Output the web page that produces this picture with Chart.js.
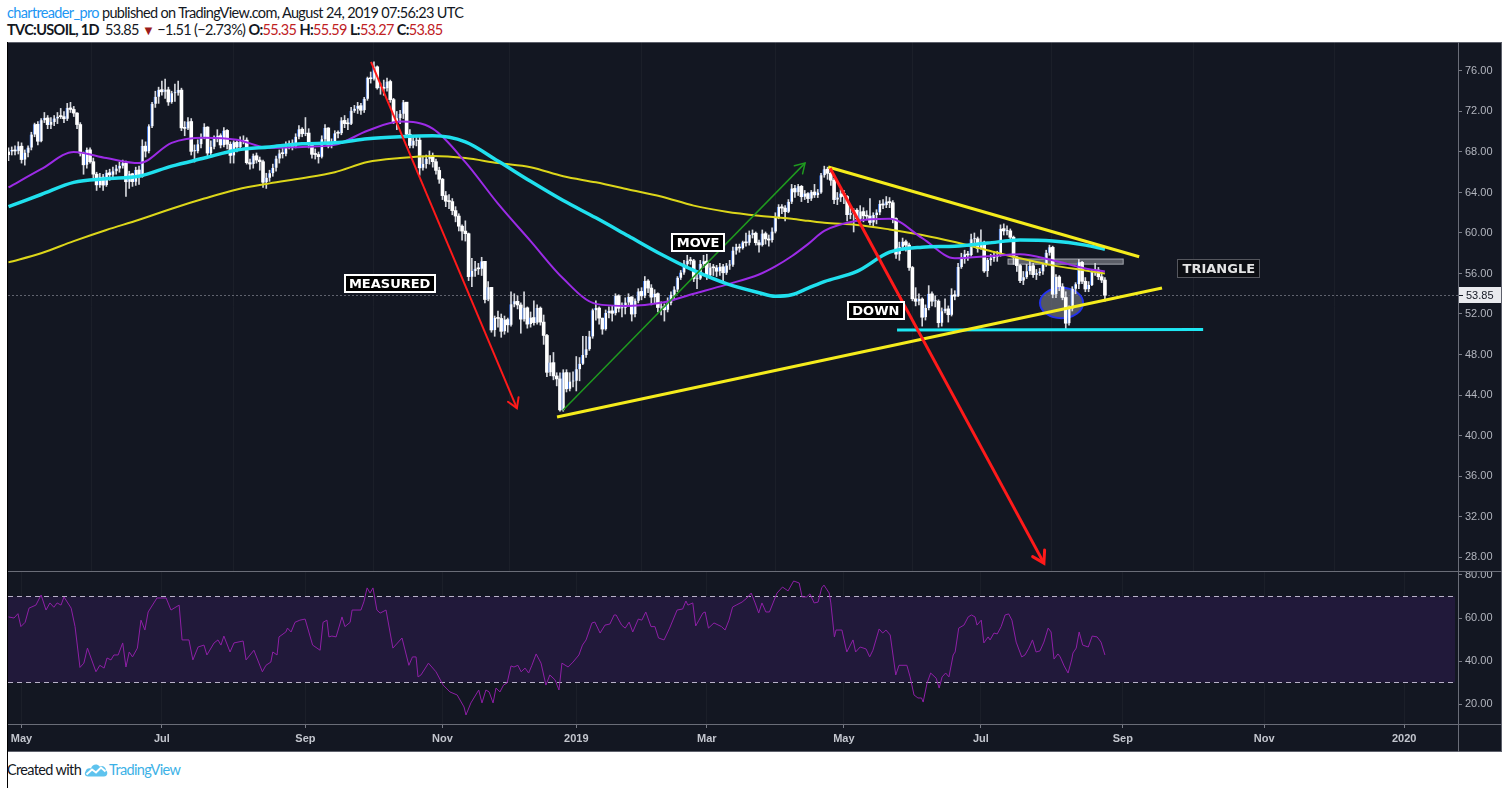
<!DOCTYPE html>
<html>
<head>
<meta charset="utf-8">
<title>TVC:USOIL, 1D</title>
<script src="https://cdn.jsdelivr.net/npm/chart.js@4.4.1/dist/chart.umd.min.js"></script>
<style>
 body { margin: 0; width: 1510px; height: 788px; background: #fff; position: relative; overflow: hidden; font-family: Lato, 'Open Sans', sans-serif; }
 .hd { position: absolute; left: 7px; font-size: 14.5px; letter-spacing: -0.65px; color: #131722; white-space: nowrap; line-height: 17px; }
 #h1 { top: 4px; }
 #h2 { top: 21px; }
 .blue { color: #2196f3; }
 .red { color: #c0211f; }
 .dn { color: #9b1b1b; font-size: 13px; }
 #frame { position: absolute; left: 7px; top: 42px; width: 1495px; height: 710px; background: #131722; box-sizing: border-box; border: 1px solid #5d606b; border-left: 1px solid #000; }
 #edge { position: absolute; left: 7px; top: 42px; width: 1px; height: 746px; background: #000; }
 canvas { position: absolute; }
 .sep { position: absolute; background: #6a6d78; z-index: 2; }
 #foot { position: absolute; left: 7px; top: 761px; font-size: 14.5px; letter-spacing: -0.65px; color: #131722; white-space: nowrap; }
 #foot svg { vertical-align: -2px; margin: 0 1px 0 3px; }
 #foot .tv { color: #3cb1e6; }
</style>
</head>
<body>
<div class="hd" id="h1"><span class="blue">chartreader_pro</span> published on TradingView.com, August 24, 2019 07:56:23 UTC</div>
<div class="hd" id="h2"><b>TVC:USOIL, 1D</b>&nbsp; 53.85 <span class="dn">▼</span> −1.51 (−2.73%) <b>O:</b><span class="red">55.35</span> <b>H:</b><span class="red">55.59</span> <b>L:</b><span class="red">53.27</span> <b>C:</b><span class="red">53.85</span></div>
<div id="frame"></div>
<div id="edge"></div>
<canvas id="mainChart" width="1494" height="529" style="left:8px;top:42px"></canvas>
<canvas id="rsiChart" width="1494" height="181" style="left:8px;top:571px"></canvas>
<div class="sep" style="left:1458px;top:42px;width:1px;height:710px"></div>
<div class="sep" style="left:8px;top:571px;width:1494px;height:1px"></div>
<div class="sep" style="left:8px;top:724px;width:1494px;height:1px"></div>
<div id="foot">Created with<svg width="24" height="15" viewBox="0 0 24 15"><path d="M4 14.5C1 14.5 0 11.5 1.5 9.5C2 6.5 5 5.5 7 6.5C8 2.5 13 1 15.5 4.5C18 3 22 4.5 22 8.5C24 9.5 24 14.5 20 14.5Z" fill="#5ec3ee"/><path d="M2.5 12.5L8 7.5L12 10.5L17 5.5L21.5 9.5" stroke="#fff" stroke-width="2" fill="none"/></svg><span class="tv">TradingView</span></div>

<script>
// daily candles, Apr 25 2018 .. Aug 23 2019 (one entry per trading day)
const firstOpen = 67.70;
const closes = [
 68.05,68.19,68.10,68.57,
 67.25,67.93,68.43,69.72,70.73,69.06,71.14,71.36,70.70,70.96,71.31,71.49,71.49,71.28,72.35,72.20,71.84,70.71,67.88,66.73,68.21,67.04,
 65.81,64.75,65.52,64.73,65.95,65.74,66.10,66.36,66.64,66.89,65.06,65.85,65.07,66.22,65.54,68.58,68.08,70.53,72.76,73.45,74.15,
 73.94,74.14,72.94,73.80,73.85,74.11,70.38,70.33,71.01,68.06,68.08,68.76,69.46,70.46,67.89,68.52,69.30,69.61,68.69,70.13,68.76,
 67.66,68.96,68.49,69.01,69.17,66.94,66.81,67.63,67.20,67.04,65.01,65.46,65.91,66.43,67.35,67.86,67.83,68.72,68.87,68.53,69.51,70.25,69.80,
 69.87,68.72,67.77,67.75,67.54,69.25,70.37,68.59,68.99,69.85,69.85,71.12,70.80,70.78,72.08,72.28,72.57,72.12,73.25,
 75.30,75.23,76.41,74.33,74.34,74.29,74.96,73.17,70.97,71.34,71.78,72.92,69.75,68.65,69.12,69.17,66.43,66.82,67.33,67.59,67.04,66.18,65.31,
 63.69,63.14,63.10,62.21,61.67,60.67,60.19,59.93,55.69,56.25,56.46,56.46,57.20,53.43,54.63,50.42,51.63,51.56,50.29,51.45,50.93,
 52.95,53.25,52.89,51.49,52.61,51.00,51.65,51.15,52.58,51.20,49.88,46.24,47.20,45.88,45.59,42.53,46.22,44.61,45.33,45.41,
 46.54,47.09,47.96,48.52,49.78,52.36,52.59,51.59,50.51,52.11,52.31,52.07,53.80,52.57,52.62,53.13,53.69,51.99,53.31,54.23,53.79,
 55.26,54.56,53.66,54.01,52.64,52.72,52.41,53.10,53.90,54.41,55.59,56.09,56.92,57.26,57.26,55.48,55.50,56.94,57.22,
 55.80,56.59,56.56,56.22,56.66,56.07,56.79,56.87,58.26,58.61,58.52,59.09,59.03,59.83,59.98,59.04,58.82,59.94,59.41,59.30,60.14,
 61.59,62.58,62.46,62.10,63.08,64.40,64.05,64.61,63.58,63.89,63.40,64.05,63.76,64.00,65.70,66.30,65.89,65.21,63.30,63.50,63.91,
 63.60,61.81,61.94,62.25,61.40,62.12,61.70,61.66,61.04,61.78,62.02,62.87,62.76,63.10,62.99,61.42,57.91,58.63,59.14,58.81,56.59,53.50,
 53.25,53.48,51.68,52.59,53.99,53.26,53.27,51.14,52.28,52.51,51.93,53.90,53.76,56.65,57.43,57.90,57.83,59.38,59.43,58.47,
 59.09,56.25,57.34,57.51,57.66,57.83,60.43,60.20,60.21,59.58,57.62,56.78,55.30,55.63,56.22,56.77,55.88,56.02,56.20,56.87,58.05,58.58,
 53.95,55.66,54.69,53.63,51.09,52.54,54.50,54.93,57.10,55.23,54.47,54.87,56.21,56.34,55.68,55.35,53.85
];
const highs = [
 68.40,68.50,68.60,69.00,
 68.90,68.20,68.60,69.95,70.85,71.00,71.30,71.90,71.60,71.40,71.60,71.90,72.30,72.00,72.80,72.90,72.50,71.90,70.90,68.00,68.40,68.40,
 67.40,66.00,65.90,65.80,66.20,66.30,66.50,66.70,67.00,67.20,67.10,66.10,65.90,66.50,66.60,69.20,69.00,70.70,72.90,74.00,74.40,
 75.00,75.20,74.40,74.00,74.70,75.00,74.30,71.00,71.40,71.30,68.70,69.20,69.80,70.80,70.50,69.10,69.60,70.20,69.80,70.40,70.20,
 69.00,69.10,69.10,69.50,69.60,69.40,67.30,67.80,67.90,67.50,67.20,65.90,66.20,66.80,67.60,68.20,68.50,69.00,69.10,69.20,69.80,70.60,70.40,
 71.40,70.30,68.80,68.30,68.00,69.60,70.70,70.40,69.30,70.10,70.10,71.40,71.60,71.30,72.40,72.60,72.90,72.80,73.40,
 75.40,75.90,76.90,76.50,74.80,75.10,75.30,75.10,73.30,72.00,72.10,73.10,72.90,70.20,69.60,69.60,69.50,67.60,67.70,68.10,67.90,67.30,66.50,
 65.40,64.10,63.80,63.40,62.60,61.90,60.80,61.20,60.00,57.50,57.20,57.00,57.60,57.10,55.20,54.60,51.80,52.30,52.00,51.80,51.60,
 54.20,54.00,53.80,53.10,54.20,52.70,52.20,53.30,52.90,52.70,51.90,50.00,47.90,48.20,46.20,46.20,46.50,46.50,46.20,46.30,
 47.80,47.70,49.80,49.80,50.30,52.50,53.30,52.70,51.60,52.40,52.70,52.80,54.00,53.90,53.10,53.60,54.00,53.70,53.50,54.50,54.60,
 55.70,55.40,54.90,54.40,54.10,53.20,53.00,53.60,54.20,54.70,55.70,56.30,57.30,57.80,57.60,57.40,56.00,57.30,57.80,
 57.90,57.00,56.90,56.80,57.00,56.90,57.00,57.30,58.60,58.90,58.90,59.20,60.00,60.20,60.30,60.10,59.30,60.30,60.10,59.80,60.50,
 62.00,62.80,62.80,62.70,63.30,64.80,64.70,64.80,64.70,64.20,64.00,64.20,64.80,64.30,65.90,66.60,66.50,66.00,65.40,64.00,64.30,
 64.20,63.70,62.60,62.40,62.40,62.70,62.50,62.20,63.40,62.00,62.30,63.20,63.30,63.60,63.50,63.20,61.50,59.10,59.50,59.30,59.00,56.70,
 54.60,54.00,53.60,52.90,54.80,54.20,53.80,53.40,52.60,53.50,52.80,54.50,54.30,57.00,58.00,58.30,58.20,59.90,60.00,59.60,
 60.30,59.20,57.50,57.90,58.20,58.20,60.80,60.90,60.70,60.40,59.70,57.70,56.90,56.20,56.90,57.20,57.00,56.40,56.50,57.00,58.30,58.80,
 58.70,55.90,55.80,55.00,54.20,52.80,54.70,55.10,57.40,57.20,55.60,55.20,56.40,57.00,56.60,56.20,55.59
];
const lows = [
 67.15,67.70,67.70,67.80,
 66.90,66.70,67.50,68.20,69.50,68.70,69.00,70.90,70.30,70.30,70.60,70.80,71.30,70.90,71.10,71.90,71.50,70.30,67.60,65.80,66.40,66.90,
 65.40,64.20,64.50,64.20,64.60,65.20,65.30,65.80,66.00,66.40,63.60,64.40,64.60,64.70,64.80,65.50,67.50,67.90,70.40,72.40,72.80,
 73.60,73.30,72.60,72.80,73.00,73.60,70.10,69.60,70.20,67.70,67.00,67.90,68.40,69.30,67.60,67.70,68.30,69.00,68.40,68.50,68.30,
 66.90,66.90,68.00,68.30,68.80,66.80,66.30,66.40,66.90,66.20,64.50,64.40,65.10,65.60,66.10,66.90,67.40,67.60,68.30,68.20,68.40,69.30,69.50,
 69.60,68.40,67.40,67.30,66.90,67.40,69.00,68.40,68.40,68.80,69.40,69.70,70.40,70.20,70.70,71.90,71.80,71.70,71.90,
 73.10,74.80,75.10,74.20,73.70,73.60,74.00,72.90,70.80,70.20,70.80,71.30,69.50,68.40,68.40,68.60,65.70,66.20,66.40,66.80,66.50,65.80,64.90,
 63.30,62.60,62.40,61.80,61.10,60.20,59.30,59.20,55.30,54.70,55.70,55.90,55.80,53.10,53.30,50.20,49.80,50.70,49.70,50.00,50.20,
 50.80,52.70,52.50,50.10,51.30,50.60,50.70,50.90,51.00,50.90,49.00,45.80,45.90,45.50,44.90,42.40,42.40,44.30,44.40,44.80,
 44.40,45.40,47.00,47.70,48.40,49.60,51.40,51.00,50.00,50.40,51.60,51.30,51.90,52.20,51.70,52.00,52.90,51.30,51.70,53.10,53.40,
 53.60,54.10,52.90,53.10,52.20,51.90,51.30,52.20,52.90,53.40,54.20,55.40,55.90,56.60,56.90,55.20,54.50,55.40,56.60,
 55.40,55.70,55.80,55.70,55.80,55.10,55.90,56.40,56.70,57.90,58.10,58.40,58.70,58.80,59.50,58.80,58.10,58.70,58.90,58.70,59.10,
 60.00,61.40,61.90,61.20,62.00,62.90,63.50,63.70,63.10,63.30,63.00,63.20,63.50,63.50,63.90,65.50,65.30,64.70,62.90,62.80,63.10,
 62.90,61.20,61.40,60.10,61.20,60.90,61.10,61.30,60.80,60.60,60.90,61.80,62.40,62.50,62.50,61.00,57.50,57.30,58.30,58.20,56.30,53.30,
 52.80,52.90,50.80,51.40,52.40,52.80,52.70,50.70,50.80,52.10,51.20,51.80,53.40,53.70,56.50,57.00,57.30,57.70,58.90,58.10,
 58.40,56.10,55.70,56.80,57.20,57.20,57.70,59.80,59.80,59.20,56.90,56.20,55.10,54.90,55.50,55.90,55.60,55.40,55.80,55.90,56.70,57.80,
 53.60,53.60,54.30,53.40,50.50,50.90,52.30,54.00,54.50,55.00,54.20,54.20,54.80,55.80,55.40,55.10,53.27
];
const lastClose = 53.85;

// moving averages (bar position, value)
const maIdx  = [0,10,20,30,40,50,60,70,80,90,100,110,120,130,140,150,160,170,180,190,200,210,220,230,235,240,245,250,260,270,280,290,300,310,320,330,336];
const ma50   = [64.5,66.3,68.0,67.4,66.9,68.9,69.4,69.2,68.4,68.5,68.7,70.1,71.0,70.3,67.0,62.9,59.2,55.5,53.0,52.8,53.1,54.0,54.9,55.9,56.7,57.7,58.9,60.2,61.2,61.4,59.5,57.5,57.7,57.9,57.3,56.5,56.2];
const ma100  = [62.6,63.8,65.0,65.35,65.6,66.6,67.4,68.2,68.5,68.8,68.9,69.3,69.5,69.6,69.0,67.1,65.1,63.2,61.5,59.7,57.9,56.3,55.0,54.1,53.75,53.9,54.55,55.2,56.2,58.1,58.6,58.7,59.0,59.3,59.2,58.8,58.4];
const ma200  = [57.1,58.0,59.2,60.3,61.3,62.4,63.4,64.3,64.9,65.4,66.0,67.0,67.4,67.6,67.4,66.9,66.5,65.6,65.0,64.3,63.6,62.7,62.1,61.7,61.55,61.4,61.2,61.0,60.8,60.35,59.8,59.1,58.3,57.5,56.8,56.3,56.0];

// RSI(14) traced as [bar, value]
const rsiPts = [
 [0,60.5],[1.7,60],[2.9,62],[3.8,56],[5.1,58],[6.3,64.6],[8.4,66],[10,70.7],[11.5,63.7],[12.7,67],[13.9,65],[14.9,67],[16.1,66],[17,69.8],
 [19.2,64.6],[20.4,56],[21.9,37],[23.1,39],[24.2,46],[26.8,35],[28,38],[29.3,36.7],[30.2,41.4],[31.4,40.5],[32.3,42.8],[33.6,42.8],[35,48.4],
 [36,37.2],[37,44.2],[38,41.9],[39.5,46],[40.6,59],[41.8,54.4],[42.8,62.8],[45.5,69.3],[48.3,69.3],[49.8,63.7],[52.3,66],[53.2,49.8],[55.3,49.8],
 [56.5,40.5],[58.1,46.5],[59.9,47.4],[60.8,42.8],[63,48.4],[64.2,49.8],[65.1,47.4],[66,51.6],[67.9,44.2],[69.1,48.4],[71.9,49.3],[72.8,40.5],
 [75.2,45],[77.8,35],[78.9,38],[80.4,39.5],[81,44.2],[82.3,42.8],[82.9,51.2],[85,53.5],[85.5,55.3],[86.6,53.5],[87.8,58],[89.3,59],[90.9,59.5],
 [93.2,47.4],[95.5,45],[96.4,58],[97.6,59],[98.2,51.2],[99.1,51.6],[100.4,51.2],[102.2,60.5],[103.1,56],[104.7,58],[105.3,63.7],[108,63.7],
 [108.9,67.5],[109.9,74],[110.8,71.6],[111.7,74],[112.9,63.7],[113.9,62.3],[115.7,63.7],[117.8,46],[120.6,50.7],[122.7,38],[123.8,41.9],
 [124.9,41.9],[125.5,32.6],[126.4,33.5],[128.7,39],[131,35],[133.2,28.8],[135.3,25.6],[137.5,24.2],[139.6,18.6],[140.2,14.9],[141.7,20.5],
 [144.1,26.5],[145.1,20.5],[146.3,26.5],[147.3,25.6],[148.5,20.5],[149.4,27.4],[150.6,25.6],[151.7,28.8],[152.8,29.8],[154,37.7],[154.9,37.2],
 [156.1,38],[157.1,35],[158.3,36.7],[159.4,34.4],[160.4,38],[161.7,43.3],[163.2,39],[164.7,28.8],[165.9,33.5],[167.5,31.2],[168.7,26.5],
 [169.6,39],[171.5,37.2],[173,39.5],[174.8,42.8],[175.9,47.4],[177,49.8],[178.8,57.7],[179.7,58.1],[181.3,53],[182.8,56.7],[184.3,57.2],
 [185.6,61.4],[186.2,61.4],[187.9,56.7],[189,55.3],[190.2,58.1],[191.3,53.5],[193,59.5],[194.1,59],[195.3,62.8],[196.9,56],[198.1,56],
 [199.2,50.7],[200.9,49.8],[202.6,55.3],[204.9,63.7],[206.6,64.2],[207.6,67.9],[208.2,66],[209.7,67],[210.6,56.3],[211.6,59],[212.8,62.3],
 [213.5,62.8],[214.5,55.3],[216.2,57.7],[218.5,56],[219.6,54.4],[220.8,59],[221.9,65.1],[223,66],[224.8,67.4],[226.3,69.3],[227.6,71.6],
 [228.8,67],[229.9,62.3],[230.9,67],[232.1,62.8],[233.2,62.8],[234.3,67],[235.5,71.6],[237.2,74.4],[238.9,72.6],[240.6,77.2],[242.3,76.3],
 [243.2,69.8],[244.6,69.8],[245.6,71.2],[246.9,67],[248.1,67.4],[249.2,74],[249.9,75.3],[251.5,71.6],[252,67],[253.1,51.2],[253.6,54.4],
 [255.4,54.4],[256.9,44.2],[258.8,49.8],[259.6,44.2],[261,46.5],[262.8,45.6],[263.9,41.9],[264.9,45],[266.8,54.9],[267.9,53],[268.9,54.4],
 [270.2,52.1],[271.9,33.5],[272.9,38],[275.3,38],[276.3,32.6],[277.5,24.2],[278.7,22.8],[279.8,22.8],[280.3,20.9],[281.5,29.8],[282.6,34.4],
 [284.3,32],[285.2,27.4],[286.1,32.6],[287.2,34.4],[288.2,32.6],[289.5,42.8],[290.1,44.2],[291.2,55.3],[292.8,56.7],[294.1,60.5],[295.1,61.4],
 [296.2,60.5],[296.8,56.7],[298.1,59],[298.9,48.4],[300.2,51.2],[300.8,49.8],[302,53],[303,52.6],[304.2,56],[305.4,61.4],[306.5,61.9],
 [307.5,59],[308.8,48.8],[310.5,41.9],[311.5,42.8],[312.7,46],[313.8,49.8],[314.9,44.2],[316.1,44.7],[317.3,48.8],[318.6,55.3],[319.5,53.5],
 [320.4,40.9],[321.6,43.3],[322.3,41.9],[323.5,37.7],[324.7,34.4],[325.8,40.5],[326.2,43.7],[327.2,46],[328.1,53.5],[329.2,47.4],[330.9,46.5],
 [332.1,51.6],[333.6,51.2],[334.8,48.8],[336,42.8]
];
const rsiBands = [30, 70];

// time axis: bar positions of the month labels (future bars continue the spacing)
const tickLabels = ['May', 'Jul', 'Sep', 'Nov', '2019', 'Mar', 'May', 'Jul', 'Sep', 'Nov', '2020'];
const tickPos    = [4, 47, 91, 133, 174, 214, 256, 298, 341.5, 384.8, 427.7];
const priceTicks = [28, 32, 36, 40, 44, 48, 52, 56, 60, 64, 68, 72, 76];
const rsiTicks   = [20, 40, 60, 80];

// drawings on the chart, as [bar, price]
const measuredArrow = [[111.1, 76.9], [155.8, 42.7]];
const moveArrow     = [[169.9, 42.5], [244.1, 66.9]];
const downArrow     = [[251.8, 66.4], [317.3, 27.4]];
const triTop        = [[251.2, 66.52], [346.5, 57.65]];
const triBottom     = [[168.1, 41.83], [353.5, 54.57]];
const supportLine   = [[272.3, 50.43], [366.1, 50.48]];
const zoneBars   = [306.3, 341.6];
const zonePrices = [56.92, 57.43];
const circleAt   = [322.7, 53.09];
const circleSize = [6.6, 1.5];
const noteText = ['MEASURED', 'MOVE', 'DOWN', 'TRIANGLE'];
const noteAt   = [[116.8, 55.06], [211.3, 59.03], [265.8, 52.32], [370.9, 56.5]];

const xMin = -0.15, xMax = 444.2;
const gridColor = 'rgba(255,255,255,0.035)';
const axisFont = { family: 'Liberation Sans', size: 11 };

const opens = closes.map((c, i) => i ? closes[i - 1] : firstOpen);
const rising = closes.map((c, i) => c > opens[i]);
const wickData = closes.map((c, i) => ({ x: i, y: [lows[i], highs[i]] }));
const bodyData = closes.map((c, i) => ({ x: i, y: [opens[i], c] }));
const pts = arr => arr.map(p => ({ x: p[0], y: p[1] }));
const maPts = vals => maIdx.map((x, k) => ({ x: x, y: vals[k] }));

function segment(points, color, width) {
  return { type: 'line', data: pts(points), borderColor: color, borderWidth: width, pointRadius: 0, tension: 0, fill: false, order: 0 };
}
function maLine(vals, color, width) {
  return { type: 'line', data: maPts(vals), borderColor: color, borderWidth: width, pointRadius: 0, cubicInterpolationMode: 'monotone', fill: false, order: 1 };
}

const arrows = [
  { line: measuredArrow, color: '#ff1a1a', width: 2, len: 11 },
  { line: moveArrow, color: '#1f9a1f', width: 1.5, len: 11 },
  { line: downArrow, color: '#ff1a1a', width: 3, len: 13 }
];

const drawings = {
  id: 'drawings',
  beforeDatasetsDraw(chart) {
    const { ctx, chartArea, scales: { x, y } } = chart;
    ctx.save();
    // last price dotted line
    const py = Math.round(y.getPixelForValue(lastClose)) + 0.5;
    ctx.strokeStyle = '#60636e';
    ctx.lineWidth = 1;
    ctx.setLineDash([2, 2]);
    ctx.beginPath(); ctx.moveTo(chartArea.left, py); ctx.lineTo(chartArea.right, py); ctx.stroke();
    ctx.setLineDash([]);
    // grey zone
    const zx0 = x.getPixelForValue(zoneBars[0]), zx1 = x.getPixelForValue(zoneBars[1]);
    const zy0 = y.getPixelForValue(zonePrices[1]), zy1 = y.getPixelForValue(zonePrices[0]);
    ctx.fillStyle = 'rgba(140,142,150,0.6)';
    ctx.fillRect(zx0, zy0, zx1 - zx0, zy1 - zy0);
    ctx.strokeStyle = 'rgba(190,192,200,0.8)';
    ctx.strokeRect(zx0, zy0, zx1 - zx0, zy1 - zy0);
    // ellipse
    const cx = x.getPixelForValue(circleAt[0]), cy = y.getPixelForValue(circleAt[1]);
    const rx = x.getPixelForValue(circleAt[0] + circleSize[0]) - cx;
    const ry = cy - y.getPixelForValue(circleAt[1] + circleSize[1]);
    ctx.beginPath(); ctx.ellipse(cx, cy, rx, ry, 0, 0, Math.PI * 2);
    ctx.fillStyle = 'rgba(120,123,134,0.65)'; ctx.fill();
    ctx.strokeStyle = '#2433ee'; ctx.lineWidth = 2; ctx.stroke();
    ctx.restore();
  },
  afterDatasetsDraw(chart) {
    const { ctx, scales: { x, y } } = chart;
    ctx.save();
    arrows.forEach(a => {
      const x0 = x.getPixelForValue(a.line[0][0]), y0 = y.getPixelForValue(a.line[0][1]);
      const x1 = x.getPixelForValue(a.line[1][0]), y1 = y.getPixelForValue(a.line[1][1]);
      const ang = Math.atan2(y1 - y0, x1 - x0);
      ctx.strokeStyle = a.color; ctx.lineWidth = a.width; ctx.lineCap = 'round';
      ctx.beginPath();
      ctx.moveTo(x1 - a.len * Math.cos(ang - 0.55), y1 - a.len * Math.sin(ang - 0.55));
      ctx.lineTo(x1, y1);
      ctx.lineTo(x1 - a.len * Math.cos(ang + 0.55), y1 - a.len * Math.sin(ang + 0.55));
      ctx.stroke();
    });
    ctx.font = 'bold 13px "DejaVu Sans"';
    ctx.textAlign = 'center';
    ctx.textBaseline = 'middle';
    noteText.forEach((t, k) => {
      const cx = x.getPixelForValue(noteAt[k][0]), cy = y.getPixelForValue(noteAt[k][1]);
      const w = Math.round(ctx.measureText(t).width) + 11, h = 19;
      const left = Math.round(cx - w / 2), top = Math.round(cy - h / 2);
      const last = k === noteText.length - 1;
      ctx.fillStyle = last ? '#0c0e13' : '#000';
      ctx.fillRect(left, top, w, h);
      ctx.lineWidth = last ? 1 : 2;
      ctx.strokeStyle = last ? '#55575e' : '#ffffff';
      if (last) ctx.strokeRect(left + 0.5, top + 0.5, w - 1, h - 1);
      else ctx.strokeRect(left + 1, top + 1, w - 2, h - 2);
      ctx.fillStyle = last ? '#e4e4e4' : '#ffffff';
      ctx.fillText(t, cx, top + h / 2 + 1);
    });
    ctx.restore();
  },
  afterDraw(chart) {
    const { ctx, chartArea, scales: { y } } = chart;
    const py = Math.round(y.getPixelForValue(lastClose));
    ctx.save();
    ctx.fillStyle = '#e9eaee';
    ctx.fillRect(chartArea.right + 1, py - 8, chart.width - chartArea.right - 2, 16);
    ctx.fillStyle = '#131722';
    ctx.fillRect(chartArea.right + 1, py, 4, 1);
    ctx.font = '11px "Liberation Sans"';
    ctx.textBaseline = 'middle';
    ctx.fillText(lastClose.toFixed(2), chartArea.right + 8, py + 1);
    ctx.restore();
  }
};

new Chart(document.getElementById('mainChart'), {
  type: 'bar',
  data: {
    datasets: [
      segment(measuredArrow, '#ff1a1a', 2),
      segment(moveArrow, '#1f9a1f', 1.5),
      segment(downArrow, '#ff1a1a', 3),
      segment(triTop, '#f5ec1c', 3),
      segment(triBottom, '#f5ec1c', 3),
      segment(supportLine, '#1ee8f4', 3),
      maLine(ma100, '#20e0ee', 3.5),
      maLine(ma50, '#9c2be6', 2),
      maLine(ma200, '#dcd61a', 2),
      {
        type: 'bar', data: bodyData, grouped: false, order: 2, barThickness: 3, minBarLength: 1,
        backgroundColor: '#ffffff', borderSkipped: false,
        borderColor: c => rising[c.dataIndex] ? '#3a6fd8' : '#ffffff',
        borderWidth: c => rising[c.dataIndex] ? { left: 1, right: 0, top: 0, bottom: 0 } : 0
      },
      { type: 'bar', data: wickData, grouped: false, order: 3, barThickness: 1, minBarLength: 1, backgroundColor: '#d6d8de' }
    ]
  },
  options: {
    responsive: false,
    animation: false,
    events: [],
    layout: { padding: 0 },
    plugins: { legend: { display: false }, tooltip: { enabled: false } },
    scales: {
      x: {
        type: 'linear', min: xMin, max: xMax, offset: false,
        afterBuildTicks: s => { s.ticks = tickPos.map(v => ({ value: v })); },
        afterFit: s => { s.height = 0; s.paddingLeft = 0; s.paddingRight = 0; },
        ticks: { display: false },
        border: { display: false },
        grid: { color: gridColor, drawTicks: false }
      },
      y: {
        type: 'linear', position: 'right', min: 26.62, max: 78.86,
        afterBuildTicks: s => { s.ticks = priceTicks.map(v => ({ value: v })); },
        afterFit: s => { s.width = 44; s.paddingTop = 0; s.paddingBottom = 0; },
        ticks: { color: '#b2b5be', font: axisFont, padding: 3, callback: v => v.toFixed(2) },
        border: { display: false },
        grid: { drawOnChartArea: false, drawTicks: true, tickLength: 4, tickColor: '#787b86' }
      }
    }
  },
  plugins: [drawings]
});

new Chart(document.getElementById('rsiChart'), {
  type: 'line',
  data: {
    datasets: [
      { data: pts(rsiPts), borderColor: '#8e1fa6', borderWidth: 1, pointRadius: 0, tension: 0, fill: false, order: 0 },
      { data: [{ x: xMin, y: rsiBands[1] }, { x: 443.3, y: rsiBands[1] }], borderColor: '#b9b2c9', borderWidth: 1, borderDash: [5, 4], pointRadius: 0,
        fill: { value: rsiBands[0] }, backgroundColor: '#21193a', order: 2 },
      { data: [{ x: xMin, y: rsiBands[0] }, { x: 443.3, y: rsiBands[0] }], borderColor: '#b9b2c9', borderWidth: 1, borderDash: [5, 4], pointRadius: 0, fill: false, order: 1 }
    ]
  },
  options: {
    responsive: false,
    animation: false,
    events: [],
    layout: { padding: 0 },
    plugins: { legend: { display: false }, tooltip: { enabled: false } },
    scales: {
      x: {
        type: 'linear', min: xMin, max: xMax, offset: false,
        afterBuildTicks: s => { s.ticks = tickPos.map(v => ({ value: v })); },
        afterFit: s => { s.height = 28; s.paddingLeft = 0; s.paddingRight = 0; },
        ticks: { color: '#c3c6ce', font: { family: 'Liberation Sans', size: 11, weight: 'bold' }, padding: 4, autoSkip: false, maxRotation: 0,
                 callback: (v, i) => tickLabels[i] },
        border: { display: false },
        grid: { color: gridColor, drawTicks: true, tickLength: 4, tickColor: '#787b86' }
      },
      y: {
        type: 'linear', position: 'right', min: 10.7, max: 81.86,
        afterBuildTicks: s => { s.ticks = rsiTicks.map(v => ({ value: v })); },
        afterFit: s => { s.width = 44; s.paddingTop = 0; s.paddingBottom = 0; },
        ticks: { color: '#b2b5be', font: axisFont, padding: 3, callback: v => v.toFixed(2) },
        border: { display: false },
        grid: { drawOnChartArea: false, drawTicks: true, tickLength: 4, tickColor: '#787b86' }
      }
    }
  }
});
</script>
</body>
</html>
